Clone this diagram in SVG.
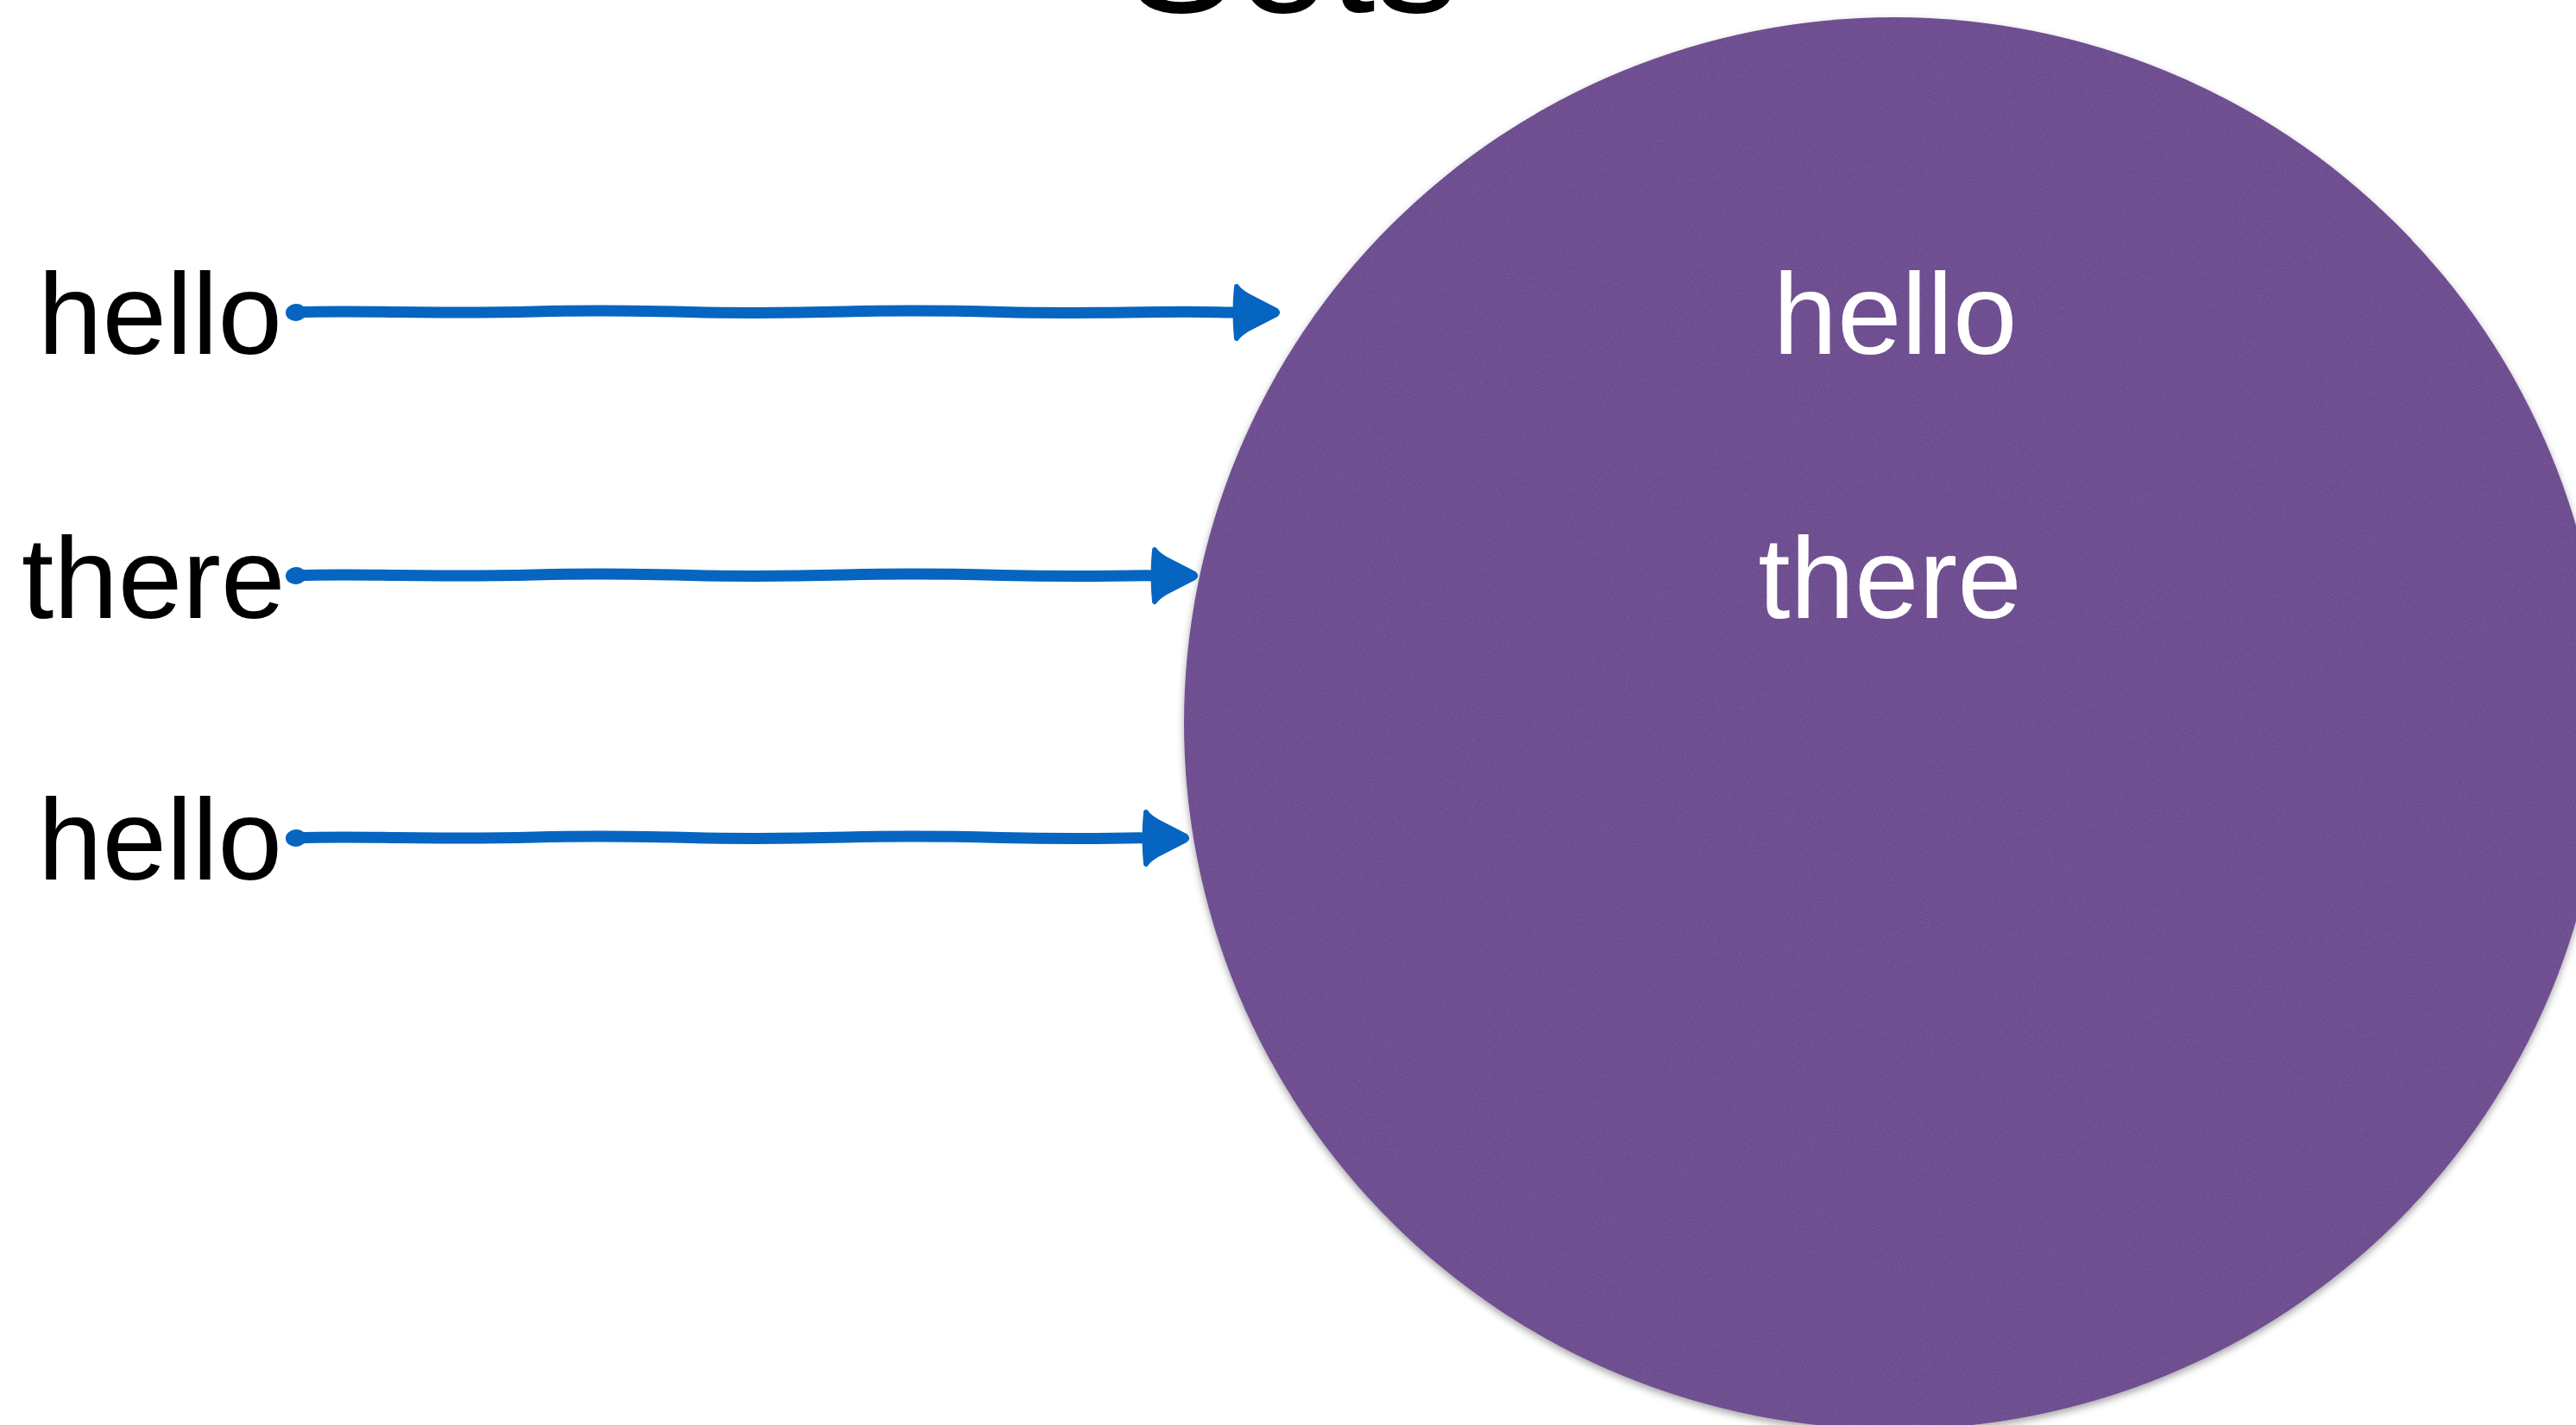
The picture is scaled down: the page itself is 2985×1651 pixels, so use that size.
<svg xmlns="http://www.w3.org/2000/svg" width="2985" height="1651" viewBox="0 0 2985 1651">
  <style>
    .lbl { font-family: "Liberation Sans", Arial, Helvetica, sans-serif; font-weight: 400; font-size: 134px; }
    .dark { fill: #000000; }
    .light { fill: #ffffff; }
    .title { font-family: "Liberation Sans", Arial, sans-serif; font-weight: 400; font-size: 190px; fill: #000000; }
    .conn { fill: none; stroke: #0565c0; stroke-width: 13; stroke-linecap: round; stroke-linejoin: round; marker-start: url(#dot); marker-end: url(#head); }
  </style>
  <defs>
    <marker id="head" markerUnits="userSpaceOnUse" markerWidth="80" markerHeight="90" viewBox="-10 -45 75 90" refX="4" refY="0" orient="auto" overflow="visible">
      <path d="M1,-30 Q3,-26 14,-19 L47,-2 Q49,0 47,2 L14,19 Q3,26 1,30 Q-2,0 1,-30 Z" fill="#0565c0" stroke="#0565c0" stroke-width="6" stroke-linejoin="round"/>
    </marker>
    <marker id="dot" markerUnits="userSpaceOnUse" markerWidth="30" markerHeight="30" viewBox="-15 -15 30 30" refX="0" refY="0" orient="auto" overflow="visible">
      <ellipse cx="0" cy="0" rx="12" ry="10" fill="#0565c0"/>
    </marker>
    <filter id="paper" x="-5%" y="-5%" width="110%" height="110%">
      <feTurbulence type="fractalNoise" baseFrequency="0.9" numOctaves="2" seed="3" result="noise"/>
      <feColorMatrix in="noise" type="matrix" values="0 0 0 0 1  0 0 0 0 1  0 0 0 0 1  0 0 0 0.08 -0.02" result="speck"/>
      <feComposite in="speck" in2="SourceGraphic" operator="in" result="tex"/>
      <feDropShadow in="SourceGraphic" dx="0" dy="4" stdDeviation="4" flood-color="#000000" flood-opacity="0.35" result="shadowed"/>
      <feMerge>
        <feMergeNode in="shadowed"/>
        <feMergeNode in="tex"/>
      </feMerge>
    </filter>
  </defs>

  <rect x="0" y="0" width="2985" height="1651" fill="#ffffff"/>

  <g id="title">
    <text class="title" x="1304" y="14" textLength="386" lengthAdjust="spacingAndGlyphs">Sets</text>
  </g>

  <g id="set-circle">
    <ellipse cx="2195" cy="838" rx="823" ry="818" fill="#6a478e" filter="url(#paper)"/>
    <text class="lbl light" x="2196" y="410" text-anchor="middle">hello</text>
    <text class="lbl light" x="2190" y="716" text-anchor="middle">there</text>
  </g>

  <g id="item-hello-1">
    <text class="lbl dark" x="44" y="410">hello</text>
  </g>
  <g id="item-there">
    <text class="lbl dark" x="25" y="716">there</text>
  </g>
  <g id="item-hello-2">
    <text class="lbl dark" x="44" y="1019">hello</text>
  </g>

  <g id="connectors">
    <path class="conn" d="M343,362 C380,360 420,361 460,361.5 S560,362.5 620,361 S740,360 800,361.5 S920,362.5 980,361 S1100,360 1160,361.5 S1280,362.5 1340,361.5 S1410,362 1436,362"/>
    <path class="conn" d="M343,667 C380,665 420,666 460,666.5 S560,667.5 620,666 S740,665 800,666.5 S920,667.5 980,666 S1100,665 1160,666.5 S1280,667.5 1310,667 S1330,667 1341,667"/>
    <path class="conn" d="M343,971 C380,969 420,970 460,970.5 S560,971.5 620,970 S740,969 800,970.5 S920,971.5 980,970 S1100,969 1160,970.5 S1280,971.5 1305,971 S1322,971 1331,971"/>
  </g>
</svg>
